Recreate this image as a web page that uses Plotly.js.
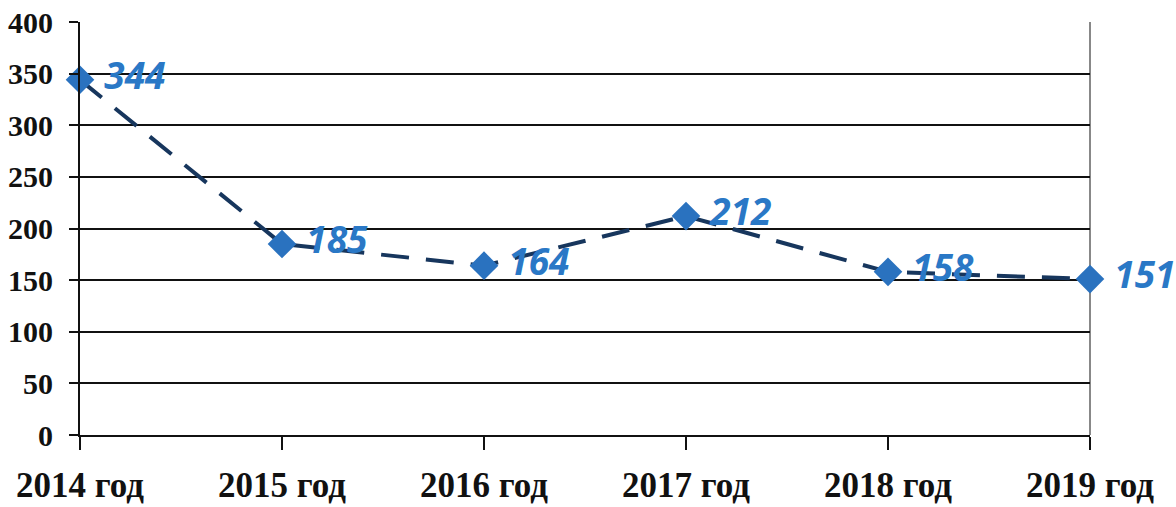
<!DOCTYPE html>
<html><head><meta charset="utf-8">
<script src="https://cdn.plot.ly/plotly-3.0.1.min.js"></script>
<style>html,body{margin:0;padding:0;background:#fff}</style>
</head><body><div id="chart" style="width:1176px;height:507px"></div>
<script>
const categories = ["2014 год","2015 год","2016 год","2017 год","2018 год","2019 год"];
const values = [344,185,164,212,158,151];
const yTicks = [0,50,100,150,200,250,300,350,400];

const trace = {
  x: categories, y: values, type: 'scatter', mode: 'lines+markers+text',
  line: {color: '#17365d', width: 4, dash: '28px,17px'},
  marker: {symbol: 'diamond', size: 22, color: '#2a72bf'},
  text: values.map(v => ' ' + v), textposition: 'middle right',
  textfont: {family: 'Open Sans', size: 37, color: '#2a78c6', weight: 'bold', style: 'italic'},
  cliponaxis: false, hoverinfo: 'none'
};

const layout = {
  width: 1176, height: 507, margin: {l: 80, r: 86, t: 22, b: 72},
  paper_bgcolor: '#fff', plot_bgcolor: '#fff', showlegend: false,
  xaxis: {type: 'category', range: [0, 5], showgrid: false, zeroline: false,
    showline: true, linecolor: '#111', linewidth: 2,
    ticks: 'outside', ticklen: 13, tickwidth: 2, tickcolor: '#111',
    tickfont: {family: 'Liberation Serif', size: 35, color: '#111', weight: 'bold'},
    ticklabelstandoff: 5},
  yaxis: {range: [0, 400], tickvals: yTicks, showgrid: true, gridcolor: '#111', gridwidth: 2,
    zeroline: false, showline: true, linecolor: '#111', linewidth: 2,
    ticks: 'outside', ticklen: 9, tickwidth: 2, tickcolor: '#111',
    tickfont: {family: 'Liberation Serif', size: 30, color: '#111', weight: 'bold'},
    ticklabelstandoff: 10},
  shapes: [{type: 'line', xref: 'paper', yref: 'paper', x0: 1, x1: 1, y0: 0, y1: 1,
    line: {color: '#888', width: 2}, layer: 'below'}]
};
Plotly.newPlot('chart', [trace], layout, {staticPlot: true});
</script></body></html>
